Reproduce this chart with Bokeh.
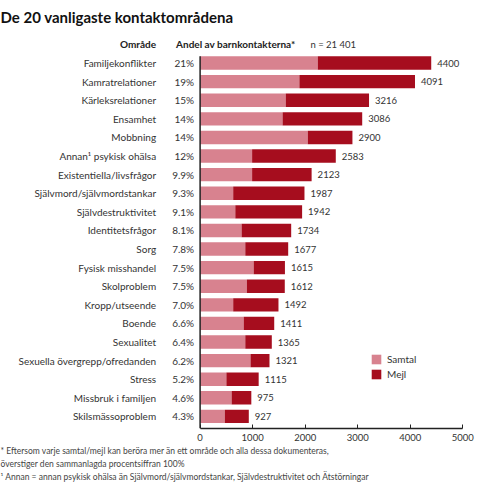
from bokeh.plotting import figure
from bokeh.models import ColumnDataSource, Range1d, FixedTicker, Legend, LegendItem, Title, Label
from bokeh.core.properties import value
from bokeh.embed import file_html
from bokeh.resources import INLINE

categories = ["Familjekonflikter", "Kamratrelationer", "Kärleksrelationer", "Ensamhet",
              "Mobbning", "Annan¹ psykisk ohälsa", "Existentiella/livsfrågor",
              "Självmord/självmordstankar", "Självdestruktivitet", "Identitetsfrågor",
              "Sorg", "Fysisk misshandel", "Skolproblem", "Kropp/utseende", "Boende",
              "Sexualitet", "Sexuella övergrepp/ofredanden", "Stress",
              "Missbruk i familjen", "Skilsmässoproblem"]
percent_labels = ["21%", "19%", "15%", "14%", "14%", "12%", "9.9%", "9.3%", "9.1%", "8.1%",
                  "7.8%", "7.5%", "7.5%", "7.0%", "6.6%", "6.4%", "6.2%", "5.2%", "4.6%", "4.3%"]
totals = [4400, 4091, 3216, 3086, 2900, 2583, 2123, 1987, 1942, 1734,
          1677, 1615, 1612, 1492, 1411, 1365, 1321, 1115, 975, 927]
samtal = [2240, 1890, 1630, 1570, 2050, 990, 990, 630, 670, 790,
          860, 1020, 890, 630, 830, 860, 960, 500, 600, 470]
mejl = [2160, 2201, 1586, 1516, 850, 1593, 1133, 1357, 1272, 944,
        817, 595, 722, 862, 581, 505, 361, 615, 375, 457]
x_ticks = [0, 1000, 2000, 3000, 4000, 5000]

FONT = "Lato"
PINK = "#d8828f"
RED = "#a60d1e"
n = len(categories)
BAR_H = 0.72

src = ColumnDataSource(dict(
    y=[n - i for i in range(n)],
    cat=categories, pct=percent_labels,
    samtal=samtal, mejl=mejl, total=totals,
    total_txt=[str(t) for t in totals],
))

p = figure(width=484, height=482, output_backend="svg", toolbar_location=None,
           x_range=Range1d(-3800, 5300), y_range=Range1d(0.35, n + 1.75),
           y_axis_location=None, min_border_left=0, min_border_right=6,
           min_border_top=4, min_border_bottom=10, outline_line_color=None)
p.grid.visible = False
p.background_fill_color = "white"

p.title.text = "De 20 vanligaste kontaktområdena"
p.title.text_font = FONT
p.title.text_font_size = "15px"
p.title.text_font_style = "bold"
p.title.text_color = "#111111"
p.title.align = "left"

renderers = p.hbar_stack(["samtal", "mejl"], y="y", height=BAR_H, color=[PINK, RED],
                         line_color=None, source=src)

p.text(x=0, y="y", text="cat", source=src, x_offset=-44, text_align="right",
       text_baseline="middle", text_font=value(FONT), text_font_size="10px",
       text_color="#333333")
p.text(x=0, y="y", text="pct", source=src, x_offset=-6, text_align="right",
       text_baseline="middle", text_font=value(FONT), text_font_size="10px",
       text_color="#333333")
p.text(x="total", y="y", text="total_txt", source=src, x_offset=6, text_align="left",
       text_baseline="middle", text_font=value(FONT), text_font_size="9.5px",
       text_color="#333333")

# vertical baseline at zero
p.segment(x0=0, y0=0.35, x1=0, y1=n + BAR_H / 2, line_color="#222222", line_width=1.5)

hdr_y = n + 1.0
p.add_layout(Label(x=0, y=hdr_y, x_offset=-44, text="Område", text_align="right",
                   text_baseline="middle", text_font=FONT, text_font_size="10px",
                   text_font_style="bold", text_color="#222222"))
p.add_layout(Label(x=0, y=hdr_y, x_offset=-24, text="Andel av barnkontakterna*",
                   text_align="left", text_baseline="middle", text_font=FONT,
                   text_font_size="10px", text_font_style="bold", text_color="#222222"))
p.add_layout(Label(x=2100, y=hdr_y, text="n = 21 401", text_align="left",
                   text_baseline="middle", text_font=FONT, text_font_size="9.5px",
                   text_color="#333333"))

p.xaxis.ticker = FixedTicker(ticks=x_ticks)
p.xaxis.bounds = (0, 5000)
p.xaxis.major_tick_in = 4
p.xaxis.major_tick_out = 0
p.xaxis.minor_tick_line_color = None
p.xaxis.axis_line_color = "#222222"
p.xaxis.axis_line_width = 1.5
p.xaxis.major_tick_line_color = "#222222"
p.xaxis.major_label_text_font = FONT
p.xaxis.major_label_text_font_size = "9.5px"
p.xaxis.major_label_text_color = "#333333"

legend = Legend(items=[LegendItem(label="Samtal", renderers=[renderers[0]]),
                       LegendItem(label="Mejl", renderers=[renderers[1]])],
                location=(370, 48), background_fill_alpha=0, border_line_color=None,
                label_text_font=FONT, label_text_font_size="10px", label_text_color="#333333",
                glyph_width=12, glyph_height=12, spacing=3, margin=0)
p.add_layout(legend)

notes = ["* Eftersom varje samtal/mejl kan beröra mer än ett område och alla dessa dokumenteras,",
         "   överstiger den sammanlagda procentsiffran 100%",
         "¹ Annan = annan psykisk ohälsa än Självmord/självmordstankar, Självdestruktivitet och Ätstörningar"]
for line in notes:
    p.add_layout(Title(text=line, text_font=FONT, text_font_size="8.5px",
                       text_font_style="normal", text_color="#444444", align="left",
                       standoff=1, offset=0), "below")

open("out.html", "w").write(file_html(p, INLINE))
